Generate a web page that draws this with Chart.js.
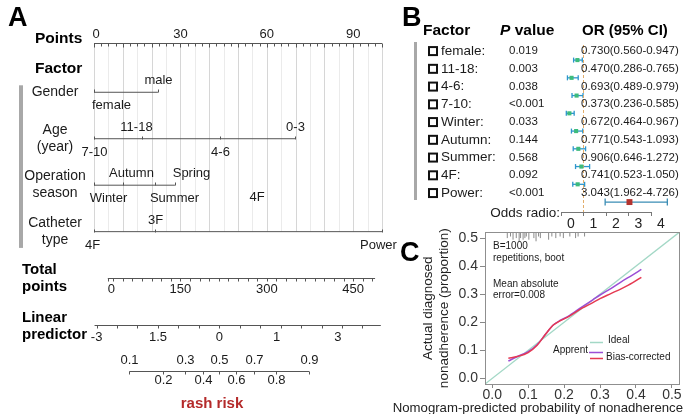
<!DOCTYPE html>
<html lang="en">
<head>
<meta charset="utf-8">
<title>Nomogram, odds ratios and calibration</title>
<script src="https://cdn.jsdelivr.net/npm/chart.js@4.4.1/dist/chart.umd.min.js"></script>
<style>
  html, body { margin: 0; padding: 0; background: #ffffff; }
  #figure { position: relative; width: 689px; height: 414px; overflow: hidden; background: #ffffff; }
  #figure canvas { position: absolute; }
</style>
</head>
<body>
<div id="figure">
  <canvas id="nomogram" width="400" height="414" style="left:0;top:0"></canvas>
  <canvas id="calibration" width="309" height="192" style="left:380px;top:222px"></canvas>
  <canvas id="forest" width="289" height="238" style="left:400px;top:0"></canvas>
</div>
<script>
const FONT = "'Liberation Sans', Arial, Helvetica, sans-serif";
const INK = '#1b1b1b';
const AXIS = '#555555';

// A - nomogram, level positions read on the 0-100 "Points" scale
const pointLabels = [0, 30, 60, 90];
const genderLevels = ['female', 'male'];
const genderPoints = [0, 22.2];
const ageLevels = ['7-10', '11-18', '4-6', '0-3'];
const agePoints = [0, 16.7, 43.7, 69.8];
const seasonLevels = ['Winter', 'Autumn', 'Summer', 'Spring'];
const seasonPoints = [0, 10.1, 21.2, 28.1];
const catheterLevels = ['4F', '3F', 'Power'];
const catheterPoints = [0, 21.2, 100];
const totalLabels = ['0', '150', '300', '450'];
const totalValues = [0, 150, 300, 450];
const totalRange = [24, 488];
const linearLabels = ['-3', '1.5', '0', '1', '3'];
const linearValues = [-3, -1.5, 0, 1.4, 2.9];
const linearRange = [-3.05, 3.95];
const riskValues = [0.1, 0.2, 0.3, 0.4, 0.5, 0.6, 0.7, 0.8, 0.9];

// B - odds ratios
const orFactors = ['female', '11-18', '4-6', '7-10', 'Winter', 'Autumn', 'Summer', '4F', 'Power'];
const orPValues = ['0.019', '0.003', '0.038', '<0.001', '0.033', '0.144', '0.568', '0.092', '<0.001'];
const orValues = [0.730, 0.470, 0.693, 0.373, 0.672, 0.771, 0.906, 0.741, 3.043];
const orLower = [0.560, 0.286, 0.489, 0.236, 0.464, 0.543, 0.646, 0.523, 1.962];
const orUpper = [0.947, 0.765, 0.979, 0.585, 0.967, 1.093, 1.272, 1.050, 4.726];

// C - calibration
const calPredicted = [0.045, 0.07, 0.10, 0.125, 0.15, 0.17, 0.19, 0.21, 0.25, 0.28, 0.30, 0.33, 0.36, 0.39, 0.415];
const calApparent = [0.062, 0.078, 0.095, 0.12, 0.16, 0.19, 0.207, 0.22, 0.255, 0.28, 0.297, 0.32, 0.345, 0.368, 0.388];
const calBiasCorrected = [0.072, 0.078, 0.092, 0.118, 0.16, 0.19, 0.206, 0.218, 0.25, 0.27, 0.284, 0.302, 0.32, 0.34, 0.36];
const rugPredicted = [0.042, 0.051, 0.058, 0.067, 0.075, 0.079, 0.086, 0.091, 0.095, 0.102, 0.116, 0.122, 0.129, 0.134, 0.157, 0.166, 0.177, 0.189, 0.198, 0.216, 0.232, 0.239, 0.257];
const rugCounts = [2, 1, 3, 2, 4, 2, 3, 2, 1, 3, 2, 4, 1, 2, 3, 1, 2, 1, 2, 1, 2, 1, 1];
const calTicks = [0, 0.1, 0.2, 0.3, 0.4, 0.5];
const CAL_MIN = -0.02, CAL_MAX = 0.52;

const totalToPoints = t => t / 5;
const linearToPoints = lp => 43.5 + 14.2 * lp;
const riskToPoints = p => linearToPoints(Math.log(p / (1 - p)));

const ROW = { points: -0.06, gender: 1, age: 2, season: 3, catheter: 4, total: 5, linear: 6, risk: 7 };
const factorRows = [
  { title: ['Gender'], row: ROW.gender, levels: genderLevels, points: genderPoints },
  { title: ['Age', '(year)'], row: ROW.age, levels: ageLevels, points: agePoints },
  { title: ['Operation', 'season'], row: ROW.season, levels: seasonLevels, points: seasonPoints },
  { title: ['Catheter', 'type'], row: ROW.catheter, levels: catheterLevels, points: catheterPoints }
];
// small nudges so level labels sit where the figure has them
const LABEL_SHIFT = { female: 17, '11-18': -6, Winter: 14, Autumn: 8, Summer: 19, Spring: 16, '4F': -2, Power: -4 };

function write(ctx, str, x, y, size, opt) {
  opt = opt || {};
  ctx.save();
  ctx.font = (opt.style ? opt.style + ' ' : '') + (opt.weight || 'normal') + ' ' + size + 'px ' + FONT;
  ctx.fillStyle = opt.color || INK;
  ctx.textAlign = opt.align || 'center';
  ctx.textBaseline = 'middle';
  ctx.fillText(str, x, y);
  ctx.restore();
}

function textWidth(ctx, str, size, weight) {
  ctx.save();
  ctx.font = (weight || 'normal') + ' ' + size + 'px ' + FONT;
  const w = ctx.measureText(str).width;
  ctx.restore();
  return w;
}

function seg(ctx, x1, y1, x2, y2, color, width) {
  ctx.save();
  ctx.strokeStyle = color;
  ctx.lineWidth = width || 1;
  ctx.beginPath();
  ctx.moveTo(x1, y1);
  ctx.lineTo(x2, y2);
  ctx.stroke();
  ctx.restore();
}

const crisp = v => Math.round(v) + 0.5;

const nomogramPlugin = {
  id: 'nomogram',
  beforeDatasetsDraw(chart) {
    const { ctx, scales: { x, y } } = chart;
    const top = y.getPixelForValue(ROW.points) + 1;
    const bottom = y.getPixelForValue(ROW.catheter);
    for (let p = 0; p <= 100; p += 5) {
      const px = crisp(x.getPixelForValue(p));
      seg(ctx, px, top, px, bottom, p % 10 === 0 ? '#d6d6d6' : '#ebebeb', 1);
    }
  },
  afterDatasetsDraw(chart) {
    const { ctx, scales: { x, y } } = chart;
    const px = v => x.getPixelForValue(v);
    const py = r => crisp(y.getPixelForValue(r));

    write(ctx, 'A', 8, 19, 27, { weight: 'bold', align: 'left', color: '#000' });

    // Points axis
    const yp = py(ROW.points);
    seg(ctx, px(0), yp, px(100), yp, AXIS, 1);
    for (let p = 0; p <= 100; p += 2.5) {
      seg(ctx, crisp(px(p)), yp, crisp(px(p)), yp + (p % 10 === 0 ? 4 : 3), AXIS, 1);
    }
    pointLabels.forEach(v => write(ctx, String(v), px(v) + (v === 0 ? 2 : 0), yp - 9, 13));
    write(ctx, 'Points', 35, yp - 5, 15.5, { weight: 'bold', align: 'left', color: '#000' });
    write(ctx, 'Factor', 35, y.getPixelForValue(0.5), 15.5, { weight: 'bold', align: 'left', color: '#000' });

    // factor rows
    factorRows.forEach(f => {
      const yr = py(f.row);
      if (f.title.length === 1) {
        write(ctx, f.title[0], 55, yr, 14);
      } else {
        write(ctx, f.title[0], 55, yr - 9, 14);
        write(ctx, f.title[1], 55, yr + 8, 14);
      }
      f.levels.forEach((lev, i) => {
        const lx = crisp(px(f.points[i]));
        seg(ctx, lx, yr - 3, lx, yr, AXIS, 1);
        const above = i % 2 === 1;
        write(ctx, lev, lx + (LABEL_SHIFT[lev] || 0), above ? yr - 12 : yr + 13, 13);
      });
    });
    write(ctx, '4F', px(56.6), py(ROW.season) + 12, 13);

    ctx.fillStyle = '#a8a8a8';
    const barTop = y.getPixelForValue(0.85);
    ctx.fillRect(19, barTop, 4, y.getPixelForValue(4.35) - barTop);

    // Total points
    const yt = py(ROW.total);
    const t0 = px(totalToPoints(totalRange[0]));
    const t1 = px(totalToPoints(totalRange[1]));
    seg(ctx, t0, yt, t1, yt, AXIS, 1);
    const tStep = 50 / 3;
    for (let k = Math.ceil(totalRange[0] / tStep); k * tStep <= totalRange[1]; k++) {
      const tx = crisp(px(totalToPoints(k * tStep)));
      seg(ctx, tx, yt, tx, yt + 3, AXIS, 1);
    }
    seg(ctx, crisp(t0), yt, crisp(t0), yt + 3, AXIS, 1);
    totalValues.forEach((v, i) => {
      const w = textWidth(ctx, totalLabels[i], 13);
      write(ctx, totalLabels[i], Math.max(px(totalToPoints(v)), t0 + w / 2), yt + 11, 13);
    });
    write(ctx, 'Total', 22, yt - 9, 15, { weight: 'bold', align: 'left', color: '#000' });
    write(ctx, 'points', 22, yt + 8, 15, { weight: 'bold', align: 'left', color: '#000' });

    // Linear predictor
    const yl = py(ROW.linear);
    seg(ctx, px(linearToPoints(linearRange[0])), yl, px(linearToPoints(linearRange[1])), yl, AXIS, 1);
    for (let lp = -3; lp <= linearRange[1]; lp += 0.5) {
      const lx = crisp(px(linearToPoints(lp)));
      seg(ctx, lx, yl, lx, yl + 3, AXIS, 1);
    }
    linearValues.forEach((v, i) => write(ctx, linearLabels[i], px(linearToPoints(v)), yl + 12, 13));
    write(ctx, 'Linear', 22, yl - 8, 15, { weight: 'bold', align: 'left', color: '#000' });
    write(ctx, 'predictor', 22, yl + 9, 15, { weight: 'bold', align: 'left', color: '#000' });

    // risk
    const yr = py(ROW.risk);
    seg(ctx, px(riskToPoints(0.1)), yr, px(riskToPoints(0.9)), yr, AXIS, 1);
    riskValues.forEach((p, i) => {
      const rx = crisp(px(riskToPoints(p)));
      seg(ctx, rx, yr, rx, yr + 3, AXIS, 1);
      write(ctx, p.toFixed(1), rx, i % 2 === 0 ? yr - 11 : yr + 9, 13);
    });
    write(ctx, 'rash risk', 212, yr + 32, 15, { weight: 'bold', color: '#b42a2a' });
  }
};

new Chart(document.getElementById('nomogram'), {
  type: 'scatter',
  data: {
    datasets: factorRows.map(f => ({
      data: [{ x: Math.min(...f.points), y: f.row }, { x: Math.max(...f.points), y: f.row }],
      showLine: true,
      borderColor: AXIS,
      borderWidth: 1,
      pointRadius: 0
    }))
  },
  options: {
    responsive: false,
    animation: false,
    events: [],
    layout: { padding: { left: 94, right: 18, top: 4, bottom: 5.8 } },
    scales: {
      x: { type: 'linear', min: 0, max: 100, display: false },
      y: { type: 'linear', min: -0.9, max: 7.8, reverse: true, display: false }
    },
    plugins: { legend: { display: false }, tooltip: { enabled: false } }
  },
  plugins: [nomogramPlugin]
});

// B - forest plot
const FOREST_TOP = -0.85, FOREST_BOTTOM = 8.56;

const forestPlugin = {
  id: 'forestTable',
  beforeDatasetsDraw(chart) {
    const { ctx, scales: { x, y } } = chart;
    orValues.forEach((v, i) => {
      const yy = y.getPixelForValue(i);
      const x1 = x.getPixelForValue(orLower[i]);
      const x2 = x.getPixelForValue(orUpper[i]);
      const power = i === orValues.length - 1;
      const col = power ? '#3a8db5' : '#2d96cc';
      const cap = power ? 3.5 : 2.5;
      seg(ctx, x1, yy, x2, yy, col, 1.3);
      seg(ctx, x1, yy - cap, x1, yy + cap, col, 1.3);
      seg(ctx, x2, yy - cap, x2, yy + cap, col, 1.3);
    });
  },
  afterDatasetsDraw(chart) {
    const { ctx, scales: { y } } = chart;
    write(ctx, 'B', 2, 19, 27, { weight: 'bold', align: 'left', color: '#000' });
    write(ctx, 'Factor', 23, 31, 15.5, { weight: 'bold', align: 'left', color: '#000' });
    write(ctx, 'P', 100, 31, 15.5, { weight: 'bold', style: 'italic', align: 'left', color: '#000' });
    write(ctx, ' value', 100 + textWidth(ctx, 'P', 15.5, 'bold'), 31, 15.5, { weight: 'bold', align: 'left', color: '#000' });
    write(ctx, 'OR (95% CI)', 182, 31, 15, { weight: 'bold', align: 'left', color: '#000' });

    ctx.fillStyle = '#a8a8a8';
    ctx.fillRect(14, 42, 3, 158);

    orFactors.forEach((name, i) => {
      const ty = y.getPixelForValue(i) - 9;
      ctx.save();
      ctx.strokeStyle = '#111';
      ctx.lineWidth = 2;
      ctx.strokeRect(29, ty - 4, 8, 8);
      ctx.restore();
      write(ctx, name + ':', 41, ty, 13.5, { align: 'left' });
      write(ctx, orPValues[i], 109, ty, 11.5, { align: 'left' });
      const txt = orValues[i].toFixed(3) + '(' + orLower[i].toFixed(3) + '-' + orUpper[i].toFixed(3) + ')';
      write(ctx, txt, 181, ty, 11.5, { align: 'left' });
    });
    write(ctx, 'Odds radio:', 160, 213, 13.5, { align: 'right' });
  }
};

new Chart(document.getElementById('forest'), {
  type: 'scatter',
  data: {
    datasets: [
      {
        data: orValues.map((v, i) => ({ x: v, y: i })),
        pointStyle: 'rect',
        pointRadius: c => (c.dataIndex === orValues.length - 1 ? 4.2 : 2.9),
        backgroundColor: c => (c.dataIndex === orValues.length - 1 ? '#b3332f' : '#3dbb7c'),
        borderWidth: 0
      },
      {
        data: [{ x: 1, y: FOREST_TOP }, { x: 1, y: FOREST_BOTTOM }],
        showLine: true,
        borderColor: '#e2ad6b',
        borderWidth: 1,
        borderDash: [3, 2],
        pointRadius: 0
      }
    ]
  },
  options: {
    responsive: false,
    animation: false,
    events: [],
    layout: { padding: { left: 161, right: 38, top: 45, bottom: 0 } },
    scales: {
      x: {
        type: 'linear', min: 0, max: 4,
        afterFit: s => { s.height = 26; },
        ticks: { stepSize: 1, labelOffset: 10, padding: 0, color: '#222', font: { size: 14, family: FONT } },
        grid: { drawOnChartArea: false, tickLength: 4, color: '#777' },
        border: { color: '#777' }
      },
      y: { type: 'linear', min: FOREST_TOP, max: FOREST_BOTTOM, reverse: true, display: false }
    },
    plugins: { legend: { display: false }, tooltip: { enabled: false } }
  },
  plugins: [forestPlugin]
});

// C - calibration curve
const calibrationPlugin = {
  id: 'calibrationText',
  afterDatasetsDraw(chart) {
    const { ctx, chartArea: a } = chart;
    ctx.save();
    ctx.strokeStyle = '#8f8f8f';
    ctx.lineWidth = 1;
    ctx.strokeRect(Math.round(a.left) + 0.5, Math.round(a.top) + 0.5, Math.round(a.width), Math.round(a.height));
    ctx.restore();

    write(ctx, 'C', 20, 32, 27, { weight: 'bold', align: 'left', color: '#000' });

    write(ctx, 'B=1000', 113, 24, 10, { align: 'left' });
    write(ctx, 'repetitions, boot', 113, 36, 10, { align: 'left' });
    write(ctx, 'Mean absolute', 113, 62, 10, { align: 'left' });
    write(ctx, 'error=0.008', 113, 73, 10, { align: 'left' });

    seg(ctx, 210, 120.5, 223, 120.5, '#a3d8c6', 1.5);
    write(ctx, 'Ideal', 228, 118, 10, { align: 'left' });
    seg(ctx, 209, 130.5, 223, 130.5, '#9b4fd6', 1.5);
    write(ctx, 'Apprent', 208, 128, 10, { align: 'right' });
    seg(ctx, 210, 136.5, 223, 136.5, '#e53a52', 1.5);
    write(ctx, 'Bias-corrected', 226, 135, 10, { align: 'left' });

    // x title runs wider than the plot, so it is written here
    write(ctx, 'Nomogram-predicted probability of nonadherence', 303, 186, 13.2, { align: 'right', color: '#222' });
  }
};

const calTickOptions = {
  callback: v => v.toFixed(1),
  color: '#333',
  font: { size: 14, family: FONT },
  autoSkip: false,
  maxRotation: 0
};

new Chart(document.getElementById('calibration'), {
  type: 'scatter',
  data: {
    datasets: [
      {
        label: 'rug',
        data: rugPredicted.map(v => ({ x: v, y: CAL_MAX })),
        pointStyle: 'line',
        pointRotation: 90,
        pointRadius: c => 2.5 + 1.6 * rugCounts[c.dataIndex],
        borderColor: '#8a8a8a',
        borderWidth: 1,
        clip: 0
      },
      {
        label: 'Bias-corrected',
        data: calPredicted.map((v, i) => ({ x: v, y: calBiasCorrected[i] })),
        showLine: true, borderColor: '#e53a52', borderWidth: 1.5, pointRadius: 0,
        cubicInterpolationMode: 'monotone'
      },
      {
        label: 'Apprent',
        data: calPredicted.map((v, i) => ({ x: v, y: calApparent[i] })),
        showLine: true, borderColor: '#9b4fd6', borderWidth: 1.5, pointRadius: 0,
        cubicInterpolationMode: 'monotone'
      },
      {
        label: 'Ideal',
        data: [CAL_MIN, CAL_MAX].map(v => ({ x: v, y: v })),
        showLine: true, borderColor: '#a3d8c6', borderWidth: 1.3, pointRadius: 0
      }
    ]
  },
  options: {
    responsive: false,
    animation: false,
    events: [],
    layout: { padding: { left: 30, right: 8, top: 8, bottom: 0 } },
    scales: {
      x: {
        type: 'linear', min: CAL_MIN, max: CAL_MAX,
        afterBuildTicks: s => { s.ticks = calTicks.map(v => ({ value: v })); },
        afterFit: s => { s.height = 30; },
        ticks: Object.assign({ padding: -1 }, calTickOptions),
        grid: { drawOnChartArea: false, tickLength: 4, color: '#888' },
        border: { display: false }
      },
      y: {
        type: 'linear', min: CAL_MIN, max: CAL_MAX,
        afterBuildTicks: s => { s.ticks = calTicks.map(v => ({ value: v })); },
        afterFit: s => { s.width = 75; },
        ticks: Object.assign({ padding: 2 }, calTickOptions),
        grid: { drawOnChartArea: false, tickLength: 5, color: '#888' },
        border: { display: false },
        title: {
          display: true,
          text: ['Actual diagnosed', 'nonadherence (proportion)'],
          color: '#222', font: { size: 13.5, family: FONT }, padding: { top: 10, bottom: 0 }
        }
      }
    },
    plugins: { legend: { display: false }, tooltip: { enabled: false } }
  },
  plugins: [calibrationPlugin]
});
</script>
</body>
</html>
